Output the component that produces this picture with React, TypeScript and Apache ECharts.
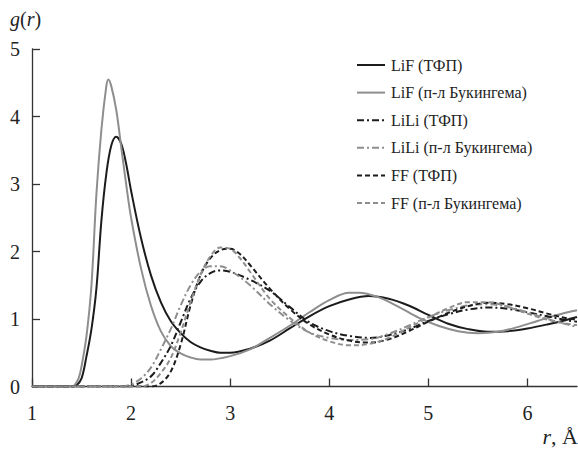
import React, { useEffect, useRef } from "react";
import * as echarts from "echarts";

const xTicks = [1, 2, 3, 4, 5, 6];
const yTicks = [0, 1, 2, 3, 4, 5];

const rLiFdft = [1.0, 1.4, 1.45, 1.5, 1.55, 1.6, 1.65, 1.7, 1.75, 1.8, 1.85, 1.9, 1.95, 2.0, 2.1, 2.2, 2.3, 2.4, 2.5, 2.6, 2.7, 2.8, 2.9, 3.0, 3.2, 3.4, 3.6, 3.8, 4.0, 4.2, 4.4, 4.6, 4.8, 5.0, 5.2, 5.4, 5.6, 5.8, 6.0, 6.2, 6.4, 6.5];
const gLiFdft = [0, 0, 0.02, 0.12, 0.45, 0.85, 1.45, 2.45, 3.15, 3.57, 3.7, 3.6, 3.3, 2.9, 2.2, 1.65, 1.25, 0.97, 0.79, 0.66, 0.58, 0.53, 0.5, 0.5, 0.56, 0.68, 0.86, 1.04, 1.19, 1.29, 1.34, 1.3, 1.2, 1.06, 0.93, 0.85, 0.81, 0.82, 0.86, 0.92, 0.99, 1.03];

const rLiFbuck = [1.0, 1.4, 1.43, 1.47, 1.5, 1.55, 1.6, 1.65, 1.7, 1.75, 1.77, 1.8, 1.85, 1.9, 1.95, 2.0, 2.1, 2.2, 2.3, 2.4, 2.5, 2.6, 2.7, 2.8, 3.0, 3.2, 3.4, 3.6, 3.8, 4.0, 4.2, 4.3, 4.5, 4.7, 4.9, 5.1, 5.3, 5.5, 5.7, 5.9, 6.1, 6.3, 6.5];
const gLiFbuck = [0, 0, 0.02, 0.12, 0.3, 0.75, 1.5, 2.85, 3.8, 4.45, 4.55, 4.45, 4.1, 3.55, 3.0, 2.5, 1.75, 1.2, 0.82, 0.6, 0.49, 0.43, 0.4, 0.4, 0.45, 0.55, 0.72, 0.9, 1.1, 1.28, 1.39, 1.39, 1.32, 1.18, 1.02, 0.9, 0.82, 0.79, 0.81, 0.88, 0.97, 1.06, 1.13];

const rLiLidft = [1.0, 1.95, 2.05, 2.2, 2.3, 2.4, 2.5, 2.6, 2.7, 2.8, 2.9, 3.0, 3.2, 3.4, 3.6, 3.8, 4.0, 4.2, 4.4, 4.6, 4.8, 5.0, 5.2, 5.4, 5.6, 5.8, 6.0, 6.2, 6.4, 6.5];
const gLiLidft = [0, 0, 0.03, 0.15, 0.35, 0.6, 0.95, 1.3, 1.55, 1.68, 1.72, 1.7, 1.58, 1.42, 1.18, 0.95, 0.82, 0.75, 0.72, 0.76, 0.85, 0.97, 1.07, 1.14, 1.17, 1.15, 1.1, 1.04, 0.98, 0.96];

const rLiLibuck = [1.0, 1.9, 2.0, 2.1, 2.2, 2.3, 2.4, 2.5, 2.6, 2.7, 2.8, 2.9, 3.0, 3.2, 3.4, 3.6, 3.8, 4.0, 4.2, 4.4, 4.6, 4.8, 5.0, 5.2, 5.4, 5.6, 5.8, 6.0, 6.2, 6.4, 6.5];
const gLiLibuck = [0, 0, 0.03, 0.12, 0.28, 0.55, 0.85, 1.2, 1.5, 1.7, 1.78, 1.78, 1.72, 1.5, 1.22, 0.98, 0.8, 0.72, 0.69, 0.7, 0.78, 0.9, 1.03, 1.13, 1.2, 1.22, 1.18, 1.1, 1.0, 0.92, 0.88];

const rFFdft = [1.0, 2.2, 2.3, 2.4, 2.5, 2.6, 2.7, 2.8, 2.9, 3.0, 3.1, 3.2, 3.4, 3.6, 3.8, 4.0, 4.2, 4.4, 4.6, 4.8, 5.0, 5.2, 5.4, 5.6, 5.8, 6.0, 6.2, 6.4, 6.5];
const gFFdft = [0, 0, 0.05, 0.22, 0.62, 1.2, 1.65, 1.9, 2.02, 2.04, 1.96, 1.8, 1.45, 1.15, 0.92, 0.77, 0.68, 0.65, 0.7, 0.82, 0.96, 1.09, 1.19, 1.24, 1.22, 1.16, 1.08, 1.01, 0.99];

const rFFbuck = [1.0, 2.1, 2.2, 2.3, 2.4, 2.5, 2.6, 2.7, 2.8, 2.9, 3.0, 3.1, 3.2, 3.4, 3.6, 3.8, 4.0, 4.2, 4.4, 4.6, 4.8, 5.0, 5.2, 5.4, 5.6, 5.8, 6.0, 6.2, 6.4, 6.5];
const gFFbuck = [0, 0, 0.05, 0.2, 0.42, 0.8, 1.25, 1.65, 1.93, 2.06, 2.04, 1.9, 1.7, 1.3, 1.02, 0.8, 0.67, 0.61, 0.63, 0.72, 0.87, 1.02, 1.16, 1.25, 1.25, 1.18, 1.08, 0.99, 0.93, 0.91];

const names = [
  "LiF (ТФП)",
  "LiF (п-л Букингема)",
  "LiLi (ТФП)",
  "LiLi (п-л Букингема)",
  "FF (ТФП)",
  "FF (п-л Букингема)",
];

const BLACK = "#1c1c1c";
const GRAY = "#8e8e8e";
const FONT = "Liberation Serif";

function pairs(r: number[], g: number[]) {
  return r.map((v, i) => [v, g[i]]);
}

export default function App() {
  const ref = useRef<HTMLDivElement>(null);
  useEffect(() => {
    if (!ref.current) return;
    const chart = echarts.init(ref.current, undefined, { renderer: "svg" });
    const dashDot = [7, 3, 2, 3];
    const dash = [5, 3];
    const colors = [BLACK, GRAY, BLACK, GRAY, BLACK, GRAY];
    const types: any[] = ["solid", "solid", dashDot, dashDot, dash, dash];
    const mk = (i: number, data: number[][]) => ({
      name: names[i],
      type: "line",
      data,
      showSymbol: false,
      symbol: "none",
      smooth: 0.35,
      lineStyle: { color: colors[i], width: 2, type: types[i] },
      itemStyle: { color: colors[i] },
      z: 3,
    });
    const legendItems: any[] = [];
    names.forEach((n, i) => {
      const y = 65 + i * 27.6;
      legendItems.push({
        type: "line",
        shape: { x1: 357, y1: y, x2: 385, y2: y },
        style: {
          stroke: colors[i],
          lineWidth: 2,
          lineDash: types[i] === "solid" ? null : types[i],
        },
      });
      legendItems.push({
        type: "text",
        x: 391,
        y: y,
        style: {
          text: n,
          fontFamily: FONT,
          fontSize: 16,
          fill: "#222",
          verticalAlign: "middle",
          align: "left",
        },
      });
    });
    chart.setOption({
      animation: false,
      backgroundColor: "#ffffff",
      grid: { left: 32, right: 1, top: 49, bottom: 62.5, containLabel: false },
      xAxis: {
        type: "value",
        min: 1,
        max: 6.5,
        interval: 1,
        axisLine: { show: true, onZero: false, lineStyle: { color: "#333", width: 1.3 } },
        axisTick: { show: true, inside: true, length: 8, lineStyle: { color: "#333", width: 1.3 } },
        splitLine: { show: false },
        axisLabel: {
          showMaxLabel: false,
          margin: 16,
          fontFamily: FONT,
          fontSize: 20,
          color: "#222",
          formatter: (v: number) => (xTicks.indexOf(v) >= 0 ? String(v) : ""),
        },
      },
      yAxis: {
        type: "value",
        min: 0,
        max: 5,
        interval: 1,
        axisLine: { show: true, lineStyle: { color: "#333", width: 1.3 } },
        axisTick: { show: true, inside: true, length: 8, lineStyle: { color: "#333", width: 1.3 } },
        splitLine: { show: false },
        axisLabel: {
          margin: 12,
          fontFamily: FONT,
          fontSize: 20,
          color: "#222",
          formatter: (v: number) => (yTicks.indexOf(v) >= 0 ? String(v) : ""),
        },
      },
      graphic: [
        {
          type: "text",
          left: 10,
          top: 9,
          style: {
            text: "{i|g}{n|(}{i|r}{n|)}",
            rich: {
              i: { fontFamily: FONT, fontSize: 20, fontStyle: "italic", fill: "#222" },
              n: { fontFamily: FONT, fontSize: 20, fill: "#222" },
            },
          },
        },
        {
          type: "text",
          right: 0,
          top: 425,
          style: {
            text: "{i|r}{n|, Å}",
            rich: {
              i: { fontFamily: FONT, fontSize: 22, fontStyle: "italic", fill: "#222" },
              n: { fontFamily: FONT, fontSize: 22, fill: "#222" },
            },
          },
        },
        { type: "group", children: legendItems },
      ],
      series: [
        mk(0, pairs(rLiFdft, gLiFdft)),
        mk(1, pairs(rLiFbuck, gLiFbuck)),
        mk(2, pairs(rLiLidft, gLiLidft)),
        mk(3, pairs(rLiLibuck, gLiLibuck)),
        mk(4, pairs(rFFdft, gFFdft)),
        mk(5, pairs(rFFbuck, gFFbuck)),
      ],
    });
    return () => chart.dispose();
  }, []);
  return <div ref={ref} style={{ width: 578, height: 449, position: "absolute", left: 0, top: 0 }} />;
}
